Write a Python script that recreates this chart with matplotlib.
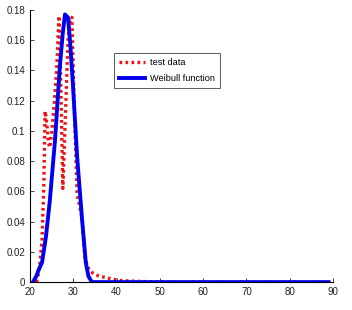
import matplotlib.pyplot as plt

plt.rcParams['font.family'] = ['Liberation Sans', 'DejaVu Sans']

# test data (red dotted)
test_x = [21.5, 21.8, 22.3, 22.8, 23.2, 23.5, 23.9, 24.3, 24.6, 25.0, 25.5, 26.2, 26.7, 27.0,
          27.6, 28.2, 28.8, 29.3, 29.7, 30.2, 30.9, 31.5, 32.0, 32.7, 33.3, 34.0, 35.0, 36.0,
          37.5, 39.0, 41.0, 45.0, 50.0, 60.0, 70.0, 80.0, 89.0]
test_y = [0.0, 0.003, 0.012, 0.028, 0.063, 0.113, 0.105, 0.092, 0.089, 0.098, 0.114, 0.142, 0.176, 0.150,
          0.062, 0.110, 0.160, 0.175, 0.175, 0.120, 0.058, 0.050, 0.043, 0.017, 0.010, 0.007, 0.005, 0.004,
          0.003, 0.002, 0.001, 0.0005, 0.0, 0.0, 0.0, 0.0, 0.0]

# Weibull fit (blue solid)
fit_x = [20.7, 21.5, 22.0, 22.8, 23.7, 24.6, 25.8, 26.9, 27.6, 28.1, 28.8, 29.3, 29.9, 30.9,
         32.0, 32.9, 33.5, 34.3, 36.0, 40.0, 50.0, 60.0, 70.0, 80.0, 89.0]
fit_y = [0.0, 0.004, 0.008, 0.013, 0.030, 0.054, 0.094, 0.142, 0.165, 0.177, 0.175, 0.158, 0.132, 0.083,
         0.043, 0.013, 0.004, 0.0, 0.0, 0.0, 0.0, 0.0, 0.0, 0.0, 0.0]

fig = plt.figure(figsize=(3.52, 3.10), dpi=100)
ax = fig.add_axes([0.085, 0.09, 0.861, 0.878])

ax.plot(test_x, test_y, color='#ee1111', linestyle=(0, (0.8, 1.0)), linewidth=2.4, label='test data')
ax.plot(fit_x, fit_y, color='#0000ee', linestyle='-', linewidth=2.8, label='Weibull function')

ax.set_xlim(20, 90)
ax.set_ylim(0, 0.18)
ax.set_xticks(range(20, 91, 10))
ax.set_yticks([0, 0.02, 0.04, 0.06, 0.08, 0.1, 0.12, 0.14, 0.16, 0.18])
ax.set_yticklabels(['0', '0.02', '0.04', '0.06', '0.08', '0.1', '0.12', '0.14', '0.16', '0.18'])
ax.tick_params(labelsize=7, direction='in', length=3, width=0.6, colors='#222222')
ax.spines['top'].set_visible(False)
ax.spines['right'].set_visible(False)
for s in ['left', 'bottom']:
    ax.spines[s].set_linewidth(0.8)

leg = ax.legend(loc='upper left', bbox_to_anchor=(0.277, 0.842), fontsize=6.6, frameon=True,
                fancybox=False, edgecolor='#333333', handlelength=2.9, borderpad=0.55,
                labelspacing=0.75, handletextpad=0.5, borderaxespad=0)
leg.get_frame().set_linewidth(0.7)

fig.savefig('out.png', dpi=100)
